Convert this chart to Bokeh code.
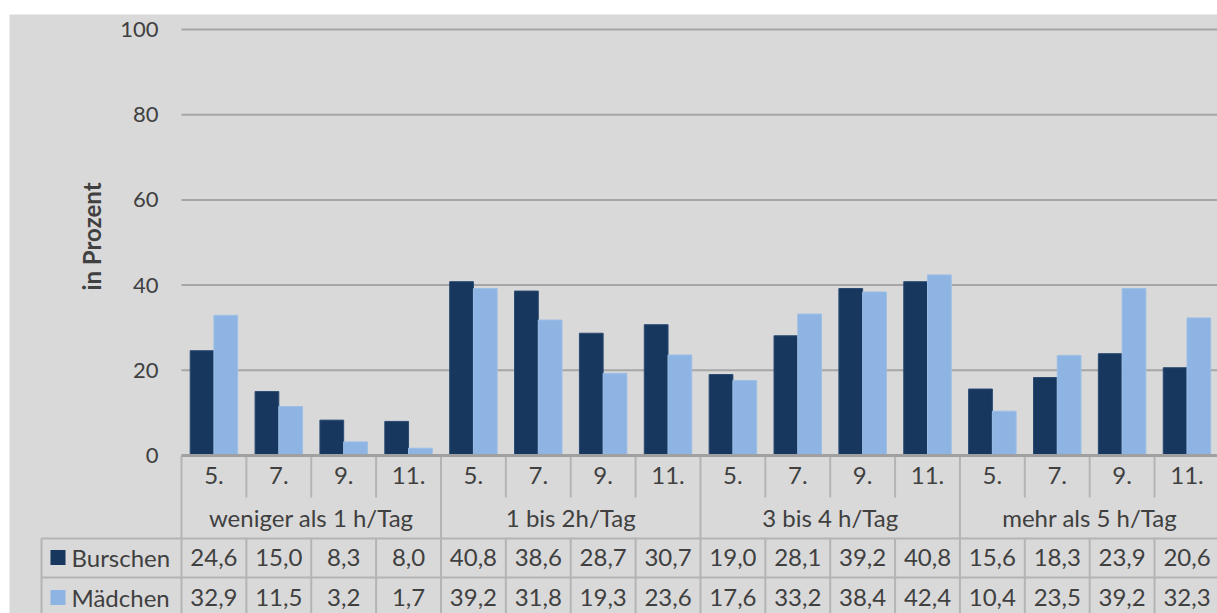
from bokeh.plotting import figure
from bokeh.models import Range1d, Spacer, ColumnDataSource
from bokeh.layouts import column, row
from bokeh.embed import file_html
from bokeh.resources import INLINE
from bokeh.core.properties import value

# ---------------- data ----------------
groups = ["weniger als 1 h/Tag", "1 bis 2h/Tag", "3 bis 4 h/Tag", "mehr als 5 h/Tag"]
grades = ["5.", "7.", "9.", "11."]
series_names = ["Burschen", "Mädchen"]
burschen = [24.6, 15.0, 8.3, 8.0, 40.8, 38.6, 28.7, 30.7, 19.0, 28.1, 39.2, 40.8, 15.6, 18.3, 23.9, 20.6]
maedchen = [32.9, 11.5, 3.2, 1.7, 39.2, 31.8, 19.3, 23.6, 17.6, 33.2, 38.4, 42.4, 10.4, 23.5, 39.2, 32.3]
y_ticks = [0, 20, 40, 60, 80, 100]
y_title = "in Prozent"

# ---------------- style ----------------
BG = "#D9D9D9"
DARK = "#17375E"
LIGHT = "#8DB4E2"
TXT = "#404040"
GRID = "#A6A6A6"
TAB = "#B4B4B4"
FONT = value("Lato")
FS_TICK = "22px"
FS_NUM = "24px"
FS_WORD = "24px"

# pixel geometry helpers (layout only)
X0, XW = 181.0, 64.87      # left of category area, width per category
Y0, YS = 455.0, 4.26       # pixel of value 0, pixels per unit
FIG_LEFT, FIG_TOP = 9, 14
W, H = 1217 - FIG_LEFT, 613 - FIG_TOP

def xd(px):
    return (px - X0) / XW

def yd(py):
    return (Y0 - py) / YS

n = len(burschen)
cats = list(range(n))

p = figure(width=W, height=H, output_backend="svg", toolbar_location=None,
           x_range=Range1d(xd(FIG_LEFT), xd(FIG_LEFT + W)),
           y_range=Range1d(yd(FIG_TOP + H), yd(FIG_TOP)),
           min_border=0, min_border_left=0, min_border_right=0,
           min_border_top=0, min_border_bottom=0)
p.xaxis.visible = False
p.yaxis.visible = False
p.xgrid.visible = False
p.ygrid.visible = False
p.outline_line_color = None
p.background_fill_color = BG
p.border_fill_color = BG

x_end = xd(FIG_LEFT + W) + 1

# gridlines
gl = [t for t in y_ticks if t != 0]
p.segment(x0=[0] * len(gl), x1=[x_end] * len(gl), y0=gl, y1=gl, line_color=GRID, line_width=2)

# bars
bw = 0.366
src = ColumnDataSource(dict(
    xb=[i + 0.5 - bw / 2 for i in cats],
    xm=[i + 0.5 + bw / 2 for i in cats],
    b=burschen, m=maedchen))
p.vbar(x="xb", top="b", bottom=0, width=bw, source=src, fill_color=DARK, line_color="#2A4A72", line_width=1)
p.vbar(x="xm", top="m", bottom=0, width=bw, source=src, fill_color=LIGHT, line_color="#9DBFE6", line_width=1)

# y tick labels
p.text(x=[0] * len(y_ticks), y=y_ticks, text=[str(t) for t in y_ticks], x_offset=-23,
       text_align="right", text_baseline="middle", text_font=FONT, text_font_size=FS_TICK, text_color=TXT)

# y title
p.text(x=[xd(91)], y=[yd(236)], text=[y_title], angle=1.5707963, text_align="center",
       text_baseline="middle", text_font=FONT, text_font_size="24px", text_font_style="bold", text_color=TXT)

# ---------------- data table ----------------
y_row1 = yd(497)
y_row2 = yd(538)
y_row3 = yd(577)
y_bot = yd(640)
x_lab = xd(41)

# vertical lines
vx0, vy0, vy1 = [], [], []
for k in range(n + 1):
    vx0.append(k)
    vy0.append(0)
    vy1.append(y_row2 if k % 4 == 0 else y_row1)
    vx0.append(k)
    vy0.append(y_row2)
    vy1.append(y_bot)
vx0.append(x_lab)
vy0.append(y_row2)
vy1.append(y_bot)
p.segment(x0=vx0, x1=vx0, y0=vy0, y1=vy1, line_color=TAB, line_width=2)
# horizontal lines
p.segment(x0=[x_lab, x_lab], x1=[x_end, x_end], y0=[y_row2, y_row3], y1=[y_row2, y_row3],
          line_color=TAB, line_width=2)

# axis line at 0
p.segment(x0=[0], x1=[x_end], y0=[0], y1=[0], line_color="#A0A0A0", line_width=3)

centers = [i + 0.5 for i in cats]
# grade row
p.text(x=centers, y=[yd(475)] * n, text=[grades[i % 4] for i in cats], text_align="center",
       text_baseline="middle", text_font=FONT, text_font_size=FS_NUM, text_color=TXT)
# group row
p.text(x=[4 * g + 2 for g in range(len(groups))], y=[yd(517)] * len(groups), text=groups,
       text_align="center", text_baseline="middle", text_font=FONT, text_font_size=FS_WORD, text_color=TXT)

def fmt(v):
    return f"{v:.1f}".replace(".", ",")

p.text(x=centers, y=[yd(557)] * n, text=[fmt(v) for v in burschen], text_align="center",
       text_baseline="middle", text_font=FONT, text_font_size=FS_NUM, text_color=TXT)
p.text(x=centers, y=[yd(597)] * n, text=[fmt(v) for v in maedchen], text_align="center",
       text_baseline="middle", text_font=FONT, text_font_size=FS_NUM, text_color=TXT)

# legend keys + series names
p.rect(x=[xd(57.5)] * 2, y=[yd(557), yd(597)], width=15, height=15, width_units="screen",
       height_units="screen", fill_color=[DARK, LIGHT], line_color=None)
p.text(x=[xd(71)] * 2, y=[yd(557), yd(597)], text=series_names, text_align="left",
       text_baseline="middle", text_font=FONT, text_font_size=FS_WORD, text_color=TXT)

layout = row(Spacer(width=FIG_LEFT, height=H), column(Spacer(width=W, height=FIG_TOP), p, spacing=0), spacing=0)
open("out.html", "w").write(file_html(layout, INLINE))
